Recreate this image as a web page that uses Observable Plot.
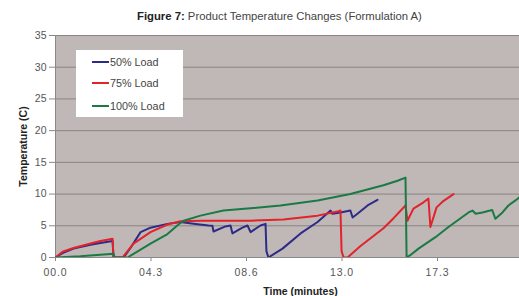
<!DOCTYPE html>
<html>
<head>
<meta charset="utf-8">
<script src="https://cdn.jsdelivr.net/npm/d3@7"></script>
<script src="https://cdn.jsdelivr.net/npm/@observablehq/plot@0.6"></script>
<style>
  html, body { margin: 0; padding: 0; background: #fff; overflow: hidden; width: 519px; height: 296px; }
  body { font-family: "Liberation Sans", Arial, sans-serif; position: relative; }
  #title { height: 26px; line-height: 32px; font-size: 11.3px; color: #444; text-align: left; padding-left: 137px; white-space: nowrap; }
  #title b { color: #222; }
  #chart { position: absolute; left: 0; top: 26px; width: 545px; }
  #chart svg { max-width: none !important; }
  #chart svg [aria-label="y-axis label"] text, #chart svg [aria-label="x-axis label"] text { font-weight: bold; fill: #222; }
  #chart svg [aria-label="x-axis tick label"] text { letter-spacing: 0.9px; }
  #legend { position: absolute; left: 76px; top: 50px; width: 107px; height: 67px; background: #fff; font-size: 10.8px; color: #444; }
  #legend .row { position: absolute; left: 16px; height: 12px; line-height: 12px; white-space: nowrap; }
  #legend .sw { display: inline-block; width: 17px; height: 0; border-top: 2px solid; vertical-align: middle; margin-right: 1px; position: relative; top: -1px; }
</style>
</head>
<body>
<div id="title"><b>Figure 7:</b> Product Temperature Changes (Formulation A)</div>
<div id="chart"></div>
<div id="legend"></div>
<script>
// Series names and colours
const seriesNames = ["50% Load", "75% Load", "100% Load"];
const seriesColors = ["#2c2c88", "#e2232b", "#1a7a45"];

// X tick labels (minutes)
const tickLabels = ["00.0", "04.3", "08.6", "13.0", "17.3", "21.6"];
const tickStep = 4.333;

// 50% Load
const time50 = [0, 0.32, 0.82, 1.59, 2.04, 2.59, 2.63, 2.72, 3.09, 3.40, 3.86, 4.31, 5.08, 5.67, 6.35, 6.94, 7.12, 7.17, 7.71, 7.94, 8.03, 8.48, 8.71, 8.85, 9.30, 9.53, 9.57, 9.66, 10.30, 11.12, 11.89, 12.48, 12.56, 12.93, 13.38, 13.48, 13.70, 14.16, 14.61];
const temp50 = [0, 0.7, 1.4, 2.0, 2.3, 2.6, 0.1, 0, 0, 1.5, 4.0, 4.7, 5.3, 5.6, 5.3, 5.05, 5.0, 4.1, 4.9, 5.05, 3.8, 4.7, 5.05, 4.0, 5.05, 5.3, 1.0, 0, 1.4, 3.8, 5.6, 7.4, 6.9, 7.1, 7.4, 6.3, 6.9, 8.2, 9.1];

// 75% Load
const time75 = [0, 0.32, 0.82, 1.59, 2.04, 2.59, 2.63, 2.72, 3.04, 3.54, 4.31, 5.08, 5.67, 6.58, 8.85, 10.34, 11.89, 12.84, 12.93, 12.98, 13.07, 13.25, 13.84, 14.88, 15.34, 15.88, 15.97, 16.24, 16.70, 16.92, 17.01, 17.29, 17.56, 18.06];
const temp75 = [0, 0.9, 1.5, 2.2, 2.6, 2.95, 0.1, 0, 0, 2.2, 4.0, 5.2, 5.7, 5.8, 5.8, 6.0, 6.6, 7.3, 7.4, 1.0, 0, 0, 1.8, 4.6, 6.2, 8.2, 5.8, 7.7, 8.7, 9.3, 4.8, 7.9, 8.8, 10.0];

// 100% Load
const time100 = [0, 1.13, 2.63, 2.68, 3.27, 4.31, 5.08, 5.58, 5.81, 6.58, 7.62, 8.98, 10.21, 11.89, 13.38, 14.88, 15.52, 15.88, 15.93, 16.11, 16.47, 17.24, 17.83, 18.74, 18.92, 19.06, 19.37, 19.72, 19.81, 19.96, 20.28, 20.55, 20.87, 21.05, 21.30];
const temp100 = [0, 0.2, 0.6, 0, 0, 2.2, 3.7, 5.2, 5.8, 6.6, 7.4, 7.8, 8.2, 9.0, 10.0, 11.4, 12.1, 12.6, 0, 0.4, 1.4, 3.2, 4.8, 7.1, 7.4, 6.9, 7.1, 7.4, 7.5, 6.1, 7.1, 8.2, 9.0, 9.5, 9.8];

const yTicks = [0, 5, 10, 15, 20, 25, 30, 35];

const times = [time50, time75, time100];
const temps = [temp50, temp75, temp100];
const data = [];
seriesNames.forEach((s, k) => {
  times[k].forEach((t, i) => data.push({series: s, time: t, temp: temps[k][i]}));
});

const W = 545, H = 270, ML = 55, MR = 0, MT = 9, MB = 39;
const pxPerMin = 95.5 / tickStep;
const xMax = (W - ML - MR) / pxPerMin;
const xTicks = tickLabels.map((_, i) => i * tickStep);

const chart = Plot.plot({
  width: W,
  height: H,
  marginLeft: ML,
  marginRight: MR,
  marginTop: MT,
  marginBottom: MB,
  style: {fontFamily: "Liberation Sans, Arial, sans-serif", fontSize: "10px", color: "#555", background: "transparent", overflow: "visible", maxWidth: "none"},
  x: {domain: [0, xMax], range: [ML, W - MR]},
  y: {domain: [0, 35]},
  color: {domain: seriesNames, range: seriesColors},
  marks: [
    Plot.frame({fill: "#c0b8b6", stroke: null}),
    Plot.gridY(yTicks.filter(d => d > 0), {stroke: "#8c8482", strokeOpacity: 1, strokeWidth: 1}),
    Plot.axisY({ticks: yTicks, tickSize: 6, tickPadding: 3, stroke: "#888", fill: "#555", fontSize: 10.5,
      label: "Temperature (C)", labelAnchor: "center", labelArrow: "none", labelOffset: 36}),
    Plot.axisX({ticks: xTicks, tickSize: 4, tickPadding: 7, stroke: "#888", fill: "#555", fontSize: 10.5,
      tickFormat: (d, i) => tickLabels[i],
      label: "Time (minutes)", labelAnchor: "center", labelArrow: "none", labelOffset: 37}),
    Plot.ruleX([0], {stroke: "#8a8a8a"}),
    Plot.ruleY([0], {stroke: "#8a8a8a"}),
    Plot.line(data, {x: "time", y: "temp", z: "series", stroke: "series", strokeWidth: 2, clip: true})
  ]
});
document.getElementById("chart").appendChild(chart);

// Legend (HTML overlay)
const legend = document.getElementById("legend");
const rowTops = [6, 27, 50];
seriesNames.forEach((s, i) => {
  const row = document.createElement("div");
  row.className = "row";
  row.style.top = rowTops[i] + "px";
  const sw = document.createElement("span");
  sw.className = "sw";
  sw.style.borderTopColor = seriesColors[i];
  row.appendChild(sw);
  row.appendChild(document.createTextNode(s));
  legend.appendChild(row);
});
</script>
</body>
</html>
